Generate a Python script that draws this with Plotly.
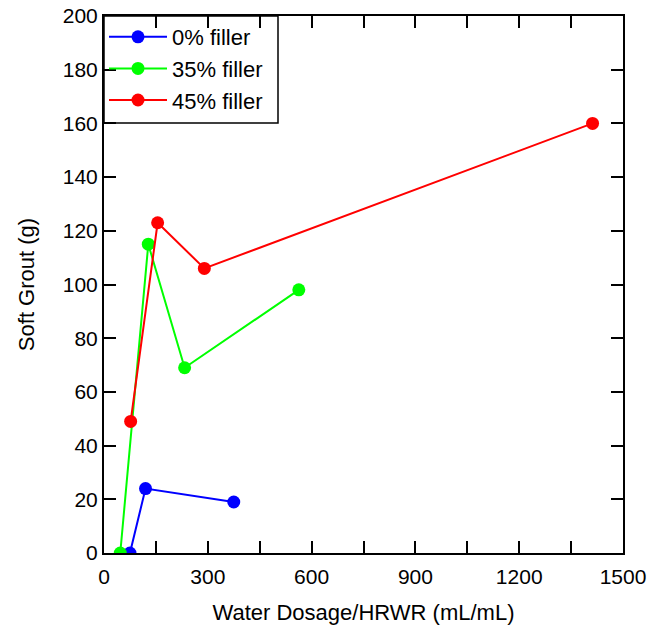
import plotly.graph_objects as go

series_names = ["0% filler", "35% filler", "45% filler"]
colors = ["#0000FF", "#00FF00", "#FF0000"]
x0 = [75, 120, 375]
y0 = [0, 24, 19]
x35 = [47, 128, 233, 563]
y35 = [0, 115, 69, 98]
x45 = [77, 155, 290, 1412]
y45 = [49, 123, 106, 160]

x_tickvals = [0, 150, 300, 450, 600, 750, 900, 1050, 1200, 1350, 1500]
x_ticktext = ["0", "", "300", "", "600", "", "900", "", "1200", "", "1500"]
y_tickvals = [0, 20, 40, 60, 80, 100, 120, 140, 160, 180, 200]

FONT = "Liberation Sans, Arial, sans-serif"

fig = go.Figure()
for name, c, xs, ys in zip(series_names, colors, [x0, x35, x45], [y0, y35, y45]):
    fig.add_trace(go.Scatter(x=xs, y=ys, name=name, mode="lines+markers",
                             line=dict(color=c, width=2),
                             marker=dict(color=c, size=13)))

axis_common = dict(showgrid=False, zeroline=False, showline=True, linecolor="black",
                   linewidth=2, mirror="ticks", ticks="inside", ticklen=12,
                   tickwidth=2, tickcolor="black", automargin=False,
                   ticklabeloverflow="allow",
                   tickfont=dict(family=FONT, size=21, color="black"))

W, H = 650, 625
L, T = 104, 16
PW, PH = 519, 537

fig.update_layout(
    width=W, height=H,
    paper_bgcolor="white", plot_bgcolor="white",
    margin=dict(l=L, r=W - L - PW, t=T, b=H - T - PH),
    font=dict(family=FONT, size=22, color="black"),
    xaxis=dict(range=[0, 1500], tickvals=x_tickvals, ticktext=x_ticktext,
               ticklabelstandoff=4,
               title=dict(text="Water Dosage/HRWR (mL/mL)", font=dict(family=FONT, size=22), standoff=18),
               **axis_common),
    yaxis=dict(range=[0, 200], tickvals=y_tickvals,
               title=dict(text="Soft Grout (g)", font=dict(family=FONT, size=22), standoff=22),
               **axis_common),
    legend=dict(x=0, y=1, xanchor="left", yanchor="top", bgcolor="rgba(0,0,0,0)",
                borderwidth=0, itemwidth=58,
                font=dict(family=FONT, size=22), tracegroupgap=0),
    shapes=[dict(type="rect", xref="paper", yref="paper",
                 x0=0, x1=174 / PW, y0=1 - 107 / PH, y1=1,
                 line=dict(color="black", width=1.5), layer="above")],
    showlegend=True,
)

fig.write_html("out.html", config={"displayModeBar": False},
               post_script="document.body.style.margin='0';document.body.style.overflow='hidden';")
